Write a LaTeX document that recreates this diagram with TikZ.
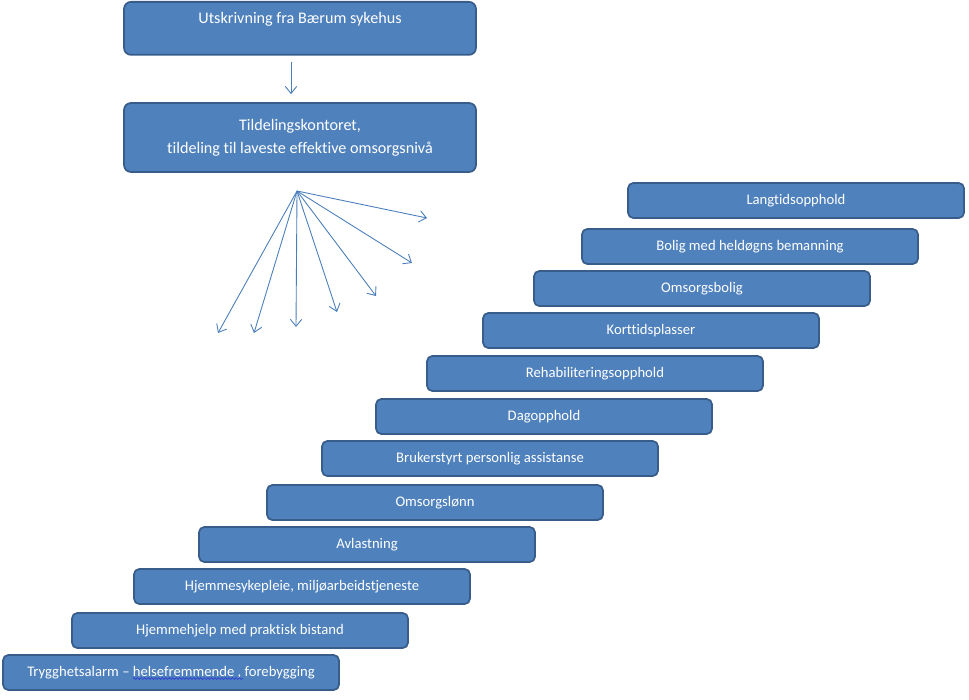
\documentclass[tikz,border=0pt]{standalone}
\usepackage{fontspec}
\setmainfont{Carlito}[Ligatures=NoCommon]
\usetikzlibrary{arrows.meta, positioning, calc, decorations.pathmorphing}
\definecolor{boxfill}{HTML}{4F81BD}
\definecolor{boxline}{HTML}{385D8A}
\definecolor{arrowline}{HTML}{4A7EBB}
\definecolor{spellwave}{HTML}{2F3FD0}

\begin{document}
\begin{tikzpicture}[x=0.02cm, y=-0.02cm,
    level/.style={rectangle, rounded corners=3pt, draw=boxline, line width=1pt, fill=boxfill, text=white,
        minimum width=6.72cm, minimum height=0.7cm, font=\fontsize{8.35}{10}\selectfont},
    headbox/.style={rectangle, rounded corners=4pt, draw=boxline, line width=1pt, fill=boxfill, text=white,
        minimum width=7.04cm, align=center, font=\fontsize{9.2}{13}\selectfont},
    flow/.style={arrowline, line width=0.5pt, -{Straight Barb[length=4pt, width=6.5pt]}}]
    \useasboundingbox (0,0) rectangle (969,699);

    \node (Utskrivning) [headbox, anchor=north, inner ysep=0pt, text height=0.44cm, text depth=0.62cm] at (300,1) {Utskrivning fra Bærum sykehus};
    \node (Tildeling) [headbox, minimum height=1.38cm] at (300,137.5) {Tildelingskontoret,\\tildeling til laveste effektive omsorgsnivå};

    \draw[flow] ($(Utskrivning.south)+(-9,6)$) -- ($(Tildeling.north)+(-9,-8)$);

    \coordinate (Fan) at (297,191);
    \coordinate (FanA) at (427,218);
    \coordinate (FanB) at (412,263);
    \coordinate (FanC) at (376,296);
    \coordinate (FanD) at (337,312);
    \coordinate (FanE) at (296,327);
    \coordinate (FanF) at (254,333);
    \coordinate (FanG) at (218,333);

    \draw[flow] (Fan) -- (FanA);
    \draw[flow] (Fan) -- (FanB);
    \draw[flow] (Fan) -- (FanC);
    \draw[flow] (Fan) -- (FanD);
    \draw[flow] (Fan) -- (FanE);
    \draw[flow] (Fan) -- (FanF);
    \draw[flow] (Fan) -- (FanG);

    \node (Langtid) [level] at (796,200.5) {Langtidsopphold};
    \node (Bolig) [level] at (750,246.5) {Bolig med heldøgns bemanning};
    \node (Omsorgsbolig) [level] at (702,288.5) {Omsorgsbolig};
    \node (Korttid) [level] at (651,330.5) {Korttidsplasser};
    \node (Rehab) [level] at (595,373.5) {Rehabiliteringsopphold};
    \node (Dagopphold) [level] at (544,416.5) {Dagopphold};
    \node (Brukerstyrt) [level] at (490,458.5) {Brukerstyrt personlig assistanse};
    \node (Omsorgslonn) [level] at (435,502.5) {Omsorgslønn};
    \node (Avlastning) [level] at (367,544.5) {Avlastning};
    \node (Sykepleie) [level] at (302,586.5) {Hjemmesykepleie, miljøarbeidstjeneste};
    \node (Hjemmehjelp) [level] at (240,630.5) {Hjemmehjelp med praktisk bistand};
    \node (Alarm) [level] at (171,672.5) {Trygghetsalarm – helsefremmende , forebygging};

    \draw[spellwave, line width=0.4pt, decorate, decoration={snake, amplitude=0.5pt, segment length=2pt}]
        ($(Alarm.center)+(-38,6)$) -- ($(Alarm.center)+(72,6)$);

\end{tikzpicture}
\end{document}
